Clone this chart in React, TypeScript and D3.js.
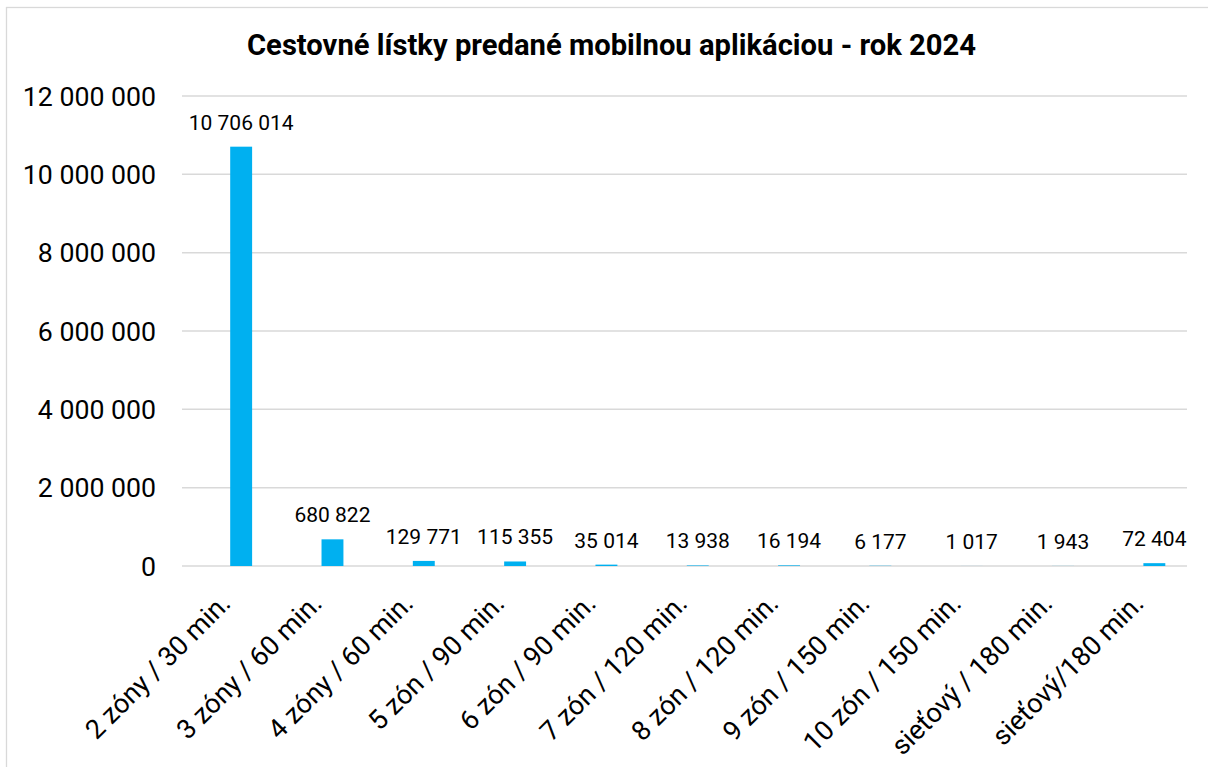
import React, { useEffect, useRef } from "react";
import * as d3 from "d3";

const title = "Cestovné lístky predané mobilnou aplikáciou - rok 2024";
const categories = [
  "2 zóny / 30 min.",
  "3 zóny / 60 min.",
  "4 zóny / 60 min.",
  "5 zón / 90 min.",
  "6 zón / 90 min.",
  "7 zón / 120 min.",
  "8 zón / 120 min.",
  "9 zón / 150 min.",
  "10 zón / 150 min.",
  "sieťový / 180 min.",
  "sieťový/180 min.",
];
const values = [10706014, 680822, 129771, 115355, 35014, 13938, 16194, 6177, 1017, 1943, 72404];
const yTicks = [0, 2000000, 4000000, 6000000, 8000000, 10000000, 12000000];

const W = 1208;
const H = 767;
const FONT = "Roboto, 'Noto Sans', sans-serif";

const fmt = (v: number) => d3.format(",")(v).replace(/,/g, " ");

export default function App() {
  const ref = useRef<SVGSVGElement | null>(null);

  useEffect(() => {
    const svg = d3.select(ref.current);
    svg.selectAll("*").remove();

    svg
      .append("rect")
      .attr("x", 6.5)
      .attr("y", 7.5)
      .attr("width", W + 20)
      .attr("height", H + 20)
      .attr("fill", "#fff")
      .attr("stroke", "#d9d9d9")
      .attr("stroke-width", 1.3);

    const x = d3.scaleBand<string>().domain(categories).range([195.5, 1200]).paddingInner(0.76).paddingOuter(0.38);
    const y = d3.scaleLinear().domain([0, 12000000]).range([566, 96]);

    const gridL = 182;
    const gridR = 1187;

    svg
      .append("g")
      .selectAll("line")
      .data(yTicks)
      .join("line")
      .attr("x1", gridL)
      .attr("x2", gridR)
      .attr("y1", (d) => y(d))
      .attr("y2", (d) => y(d))
      .attr("stroke", "#d9d9d9")
      .attr("stroke-width", 1.5);

    svg
      .append("g")
      .selectAll("text")
      .data(yTicks)
      .join("text")
      .attr("x", 156)
      .attr("y", (d) => y(d))
      .attr("dy", "0.36em")
      .attr("text-anchor", "end")
      .attr("font-family", FONT)
      .attr("font-size", 26.7)
      .attr("fill", "#000")
      .text((d) => fmt(d));

    const data = categories.map((c, i) => ({ c, v: values[i] }));

    svg
      .append("g")
      .selectAll("rect")
      .data(data)
      .join("rect")
      .attr("x", (d) => x(d.c)!)
      .attr("width", x.bandwidth())
      .attr("y", (d) => y(d.v))
      .attr("height", (d) => y(0) - y(d.v))
      .attr("fill", "#00b0f0");

    svg
      .append("g")
      .selectAll("text")
      .data(data)
      .join("text")
      .attr("x", (d) => x(d.c)! + x.bandwidth() / 2)
      .attr("y", (d) => y(d.v) - 17)
      .attr("text-anchor", "middle")
      .attr("font-family", FONT)
      .attr("font-size", 21)
      .attr("fill", "#000")
      .text((d) => fmt(d.v));

    svg
      .append("g")
      .selectAll("text")
      .data(categories)
      .join("text")
      .attr("text-anchor", "end")
      .attr("font-family", FONT)
      .attr("font-size", 27)
      .attr("fill", "#000")
      .attr("transform", (d) => {
        const cx = x(d)! + x.bandwidth() / 2 - 9;
        return `translate(${cx},${605}) rotate(-45)`;
      })
      .text((d) => d);

    svg
      .append("text")
      .attr("x", 611.5)
      .attr("y", 55)
      .attr("text-anchor", "middle")
      .attr("font-family", FONT)
      .attr("font-weight", "bold")
      .attr("font-size", 29.2)
      .attr("fill", "#000")
      .text(title);
  }, []);

  return (
    <svg
      ref={ref}
      width={W}
      height={H}
      style={{ position: "absolute", left: 0, top: 0, display: "block", background: "#fff" }}
    />
  );
}
